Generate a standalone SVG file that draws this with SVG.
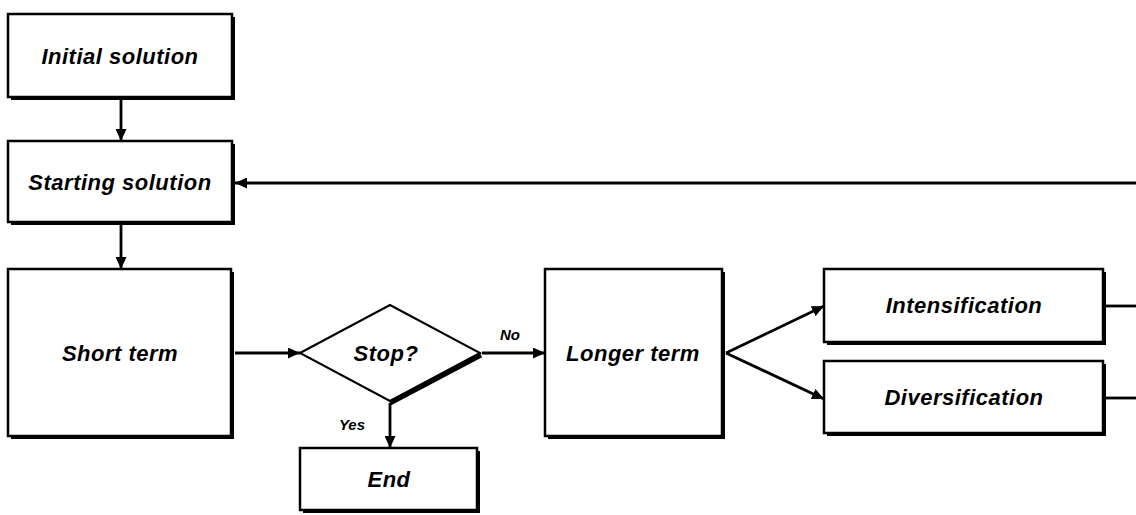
<svg xmlns="http://www.w3.org/2000/svg" width="1136" height="515" viewBox="0 0 1136 515">
<defs>
<marker id="ah" markerUnits="userSpaceOnUse" markerWidth="13" markerHeight="11" refX="12" refY="5.5" orient="auto">
<path d="M0,0 L12,5.5 L0,11 z" fill="#000"/>
</marker>
<style>
.sh{fill:#000}
.bx{fill:#fff;stroke:#000;stroke-width:2.5}
.t{font-family:"Liberation Sans",Arial,sans-serif;font-style:italic;font-weight:bold;font-size:22px;letter-spacing:0.5px;fill:#000;text-anchor:middle}
.lb{font-family:"Liberation Sans",Arial,sans-serif;font-style:italic;font-weight:bold;font-size:15px;fill:#000;text-anchor:middle}
.c{stroke:#000;stroke-width:2.8;fill:none}
.ca{stroke:#000;stroke-width:2.8;fill:none;marker-end:url(#ah)}
</style>
</defs>
<rect width="1136" height="515" fill="#fff"/>
<g id="connectors">
<line class="ca" x1="121" y1="99" x2="121" y2="141"/>
<line class="ca" x1="121" y1="225" x2="121" y2="269"/>
<line class="ca" x1="235" y1="353" x2="300" y2="353"/>
<line class="ca" x1="482" y1="353" x2="545" y2="353"/>
<line class="ca" x1="390" y1="403" x2="390" y2="448"/>
<line class="ca" x1="726" y1="353" x2="824" y2="306"/>
<line class="ca" x1="726" y1="353" x2="824" y2="399"/>
<line class="c" x1="1106" y1="306" x2="1136" y2="306"/>
<line class="c" x1="1106" y1="398" x2="1136" y2="398"/>
<line class="ca" x1="1136" y1="183" x2="235" y2="183"/>
<text class="lb" x="510" y="340">No</text>
<text class="lb" x="352" y="430">Yes</text>
</g>
<g id="initial">
<rect class="sh" x="11" y="17" width="224" height="83"/>
<rect class="bx" x="8" y="14" width="224" height="83"/>
<text class="t" x="120" y="64">Initial solution</text>
</g>
<g id="starting">
<rect class="sh" x="11" y="144" width="224" height="81"/>
<rect class="bx" x="8" y="141" width="224" height="81"/>
<text class="t" x="120" y="190">Starting solution</text>
</g>
<g id="short">
<rect class="sh" x="11" y="272" width="223" height="167"/>
<rect class="bx" x="8" y="269" width="223" height="167"/>
<text class="t" x="120" y="361">Short term</text>
</g>
<g id="stop">
<polygon points="300,353 390,305 480,353 390,401" fill="#fff" stroke="#000" stroke-width="2"/>
<line x1="481" y1="355" x2="390" y2="403" stroke="#000" stroke-width="5"/>
<text class="t" x="386" y="361">Stop?</text>
</g>
<g id="end">
<rect class="sh" x="303" y="451" width="177" height="62"/>
<rect class="bx" x="300" y="448" width="177" height="62"/>
<text class="t" x="389" y="487">End</text>
</g>
<g id="longer">
<rect class="sh" x="548" y="272" width="177" height="167"/>
<rect class="bx" x="545" y="269" width="177" height="167"/>
<text class="t" x="633" y="361">Longer term</text>
</g>
<g id="intensification">
<rect class="sh" x="827" y="272" width="279" height="73"/>
<rect class="bx" x="824" y="269" width="279" height="73"/>
<text class="t" x="964" y="313">Intensification</text>
</g>
<g id="diversification">
<rect class="sh" x="827" y="364" width="279" height="72"/>
<rect class="bx" x="824" y="361" width="279" height="72"/>
<text class="t" x="964" y="405">Diversification</text>
</g>
</svg>
